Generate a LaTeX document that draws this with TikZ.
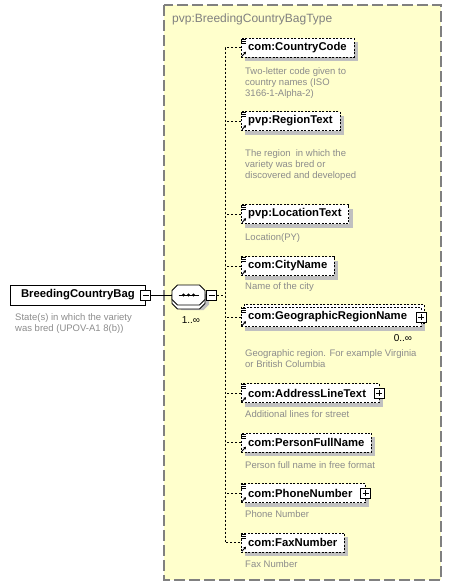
\documentclass[tikz,border=0pt]{standalone}
\usepackage{fontspec}
\setmainfont{Liberation Sans}
\usetikzlibrary{shadows,arrows.meta}
\definecolor{typefill}{HTML}{FFFFCC}
\definecolor{typeline}{HTML}{808080}
\definecolor{docgray}{HTML}{8C8C8C}
\definecolor{shadowgray}{HTML}{C0C0C0}
\tikzset{
  elem/.style={draw, dash pattern=on 2pt off 1.5pt, fill=white, anchor=west,
    minimum height=19pt, inner xsep=7pt, inner ysep=0pt,
    font=\bfseries\fontsize{11.3}{13}\selectfont,
    drop shadow={fill=shadowgray, opacity=1, shadow xshift=4pt, shadow yshift=-4pt}},
  doc/.style={anchor=north west, inner sep=0pt, align=left, text=docgray,
    font=\fontsize{9.5}{11}\selectfont},
  conn/.style={line width=.8pt, dash pattern=on 2pt off 2pt},
  minusbox/.style={draw, fill=white, minimum size=10pt, inner sep=0pt, line width=.8pt,
    path picture={\draw[line width=.8pt] ([xshift=2pt]path picture bounding box.west)
      -- ([xshift=-2pt]path picture bounding box.east);}},
  plusbox/.style={minusbox, postaction={path picture={\draw[line width=.8pt]
      ([yshift=-2pt]path picture bounding box.north)
      -- ([yshift=2pt]path picture bounding box.south);}}},
  octa/.pic={\path[pic actions] (-11,-10) -- (11,-10) -- (16.5,-4.5) -- (16.5,4.5)
      -- (11,10) -- (-11,10) -- (-16.5,4.5) -- (-16.5,-4.5) -- cycle;},
}
% little element icon
\newcommand{\elmark}[1]{%
  \foreach \dy in {1,3,5}
    \draw[line width=.6pt] ([shift={(0pt,-\dy pt)}]#1.north west) -- ++(5pt,0pt);
  \draw[line width=.9pt, -{Stealth[length=2.5pt,width=3pt]}]
    ([shift={(1pt,1pt)}]#1.south west) -- ++(4pt,4.5pt);
}
\begin{document}
\begin{tikzpicture}[x=1pt,y=-1pt]
  \useasboundingbox (0,0) rectangle (451,587);
  % complex type
  \draw[typeline, fill=typefill, line width=1.2pt, dash pattern=on 11pt off 4pt]
    (164,5) rectangle (441,580);
  \node[anchor=west, inner sep=0pt, text=typeline, font=\fontsize{12}{14}\selectfont]
    (typename) at (172,19) {pvp:BreedingCountryBagType};

  % root element
  \node[draw, line width=.8pt, anchor=west, minimum height=20pt, minimum width=135pt,
    inner sep=0pt, font=\bfseries\fontsize{11.3}{13}\selectfont]
    (bag) at (10,295) {BreedingCountryBag};
  \node[minusbox] (bagminus) at (bag.east) {};
  \node[doc] (bagdoc) at (15,313) {State(s) in which the variety\\was bred (UPOV-A1 8(b))};

  % sequence
  \node[minimum width=33pt, minimum height=20pt, inner sep=0pt] (seq) at (188.5,295) {};
  \pic[fill=shadowgray] at ([shift={(4pt,-5pt)}]seq.center) {octa};
  \pic[draw, fill=white, line width=.8pt] at ([shift={(0pt,-4pt)}]seq.center) {octa};
  \pic[draw, fill=white, line width=.8pt] at (seq.center) {octa};
  \draw[line width=.8pt] ([xshift=-10pt]seq.center) -- ([xshift=10pt]seq.center);
  \foreach \dx in {-5,0,5}
    \fill ([xshift=\dx pt]seq.center) circle (1.6pt);
  \node[minusbox, anchor=west] (seqminus) at ([xshift=1pt]seq.east) {};
  \node[font=\fontsize{10}{12}\selectfont] (seqocc) at (191,320) {1..∞};
  \draw[line width=.8pt] (bagminus) -- (seq);
  \coordinate (spine) at (225,295);
  \draw[conn] (seqminus) -- (spine);

  % child elements
  \node[elem] (cc) at (241,47.5) {com:CountryCode};
  \node[doc] (ccdoc) at (245,67) {Two-letter code given to\\country names (ISO\\3166-1-Alpha-2)};
  \node[elem] (region) at (241,121) {pvp:RegionText};
  \node[doc] (regiondoc) at (245,149) {The region\ \ in which the\\variety was bred or\\discovered and developed};
  \node[elem] (loc) at (241,214) {pvp:LocationText};
  \node[doc] (locdoc) at (245,233) {Location(PY)};
  \node[elem] (city) at (241,266) {com:CityName};
  \node[doc] (citydoc) at (245,282) {Name of the city};
  \node[elem, copy shadow={fill=white, draw, dash pattern=on 2pt off 1.5pt,
      shadow xshift=3pt, shadow yshift=3pt}]
    (geo) at (241,317) {com:GeographicRegionName\rule{7pt}{0pt}};
  \node[plusbox] (geoplus) at (geo.east) {};
  \node[font=\fontsize{10}{12}\selectfont] (geoocc) at (403,338) {0..∞};
  \node[doc] (geodoc) at (245,349) {Geographic region. For example Virginia\\or British Columbia};
  \node[elem] (addr) at (241,393) {com:AddressLineText\rule{6pt}{0pt}};
  \node[plusbox] (addrplus) at (addr.east) {};
  \node[doc] (addrdoc) at (245,410) {Additional lines for street};
  \node[elem] (person) at (241,442.5) {com:PersonFullName};
  \node[doc] (persondoc) at (245,461) {Person full name in free format};
  \node[elem] (phone) at (241,493) {com:PhoneNumber\rule{6pt}{0pt}};
  \node[plusbox] (phoneplus) at (phone.east) {};
  \node[doc] (phonedoc) at (245,510) {Phone Number};
  \node[elem] (fax) at (241,542.5) {com:FaxNumber};
  \node[doc] (faxdoc) at (245,560) {Fax Number};

  \foreach \n in {cc,region,loc,city,geo,addr,person,phone,fax}
    {\elmark{\n}}

  % connectors
  \draw[conn] (cc.west) -- ++(-16,0) |- (fax.west);
  \foreach \n in {region,loc,city,geo,addr,person,phone}
    \draw[conn] (\n.west) -- ++(-16,0);
\end{tikzpicture}
\end{document}
